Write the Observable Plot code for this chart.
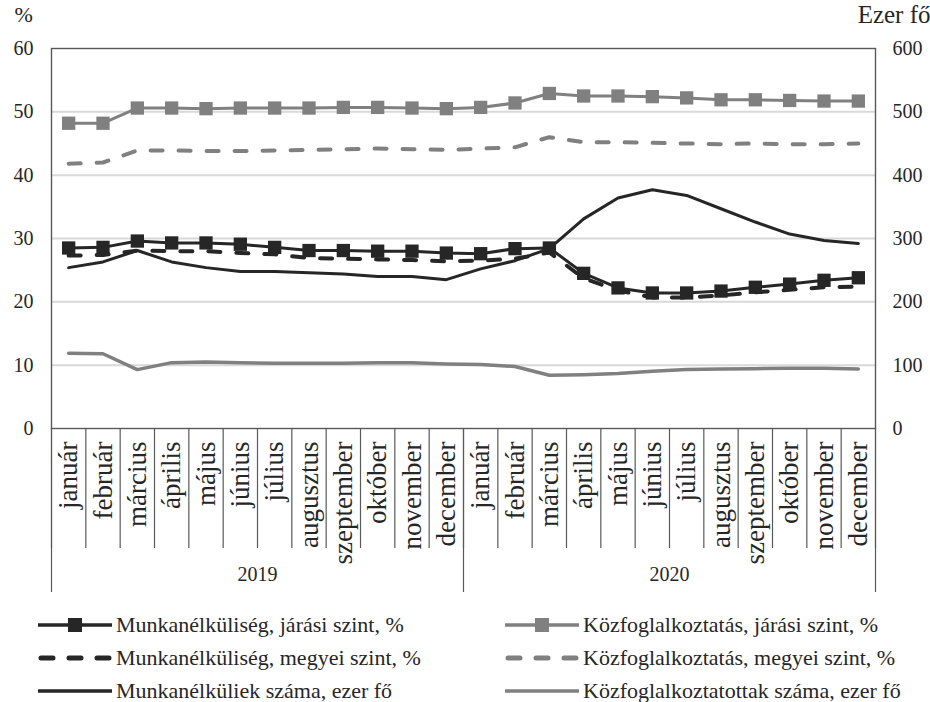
<!DOCTYPE html>
<html>
<head>
<meta charset="utf-8">
<script src="https://cdn.jsdelivr.net/npm/d3@7"></script>
<script src="https://cdn.jsdelivr.net/npm/@observablehq/plot@0.6"></script>
<style>
  html, body { margin: 0; background: #fff; font-family: "Liberation Serif", "DejaVu Serif", serif; color: #262626; overflow: hidden; }
  #wrap { position: relative; width: 930px; height: 702px; }
  .leg { position: absolute; display: flex; align-items: center; font-size: 22px; line-height: 20px; height: 20px; white-space: nowrap; }
  .leg svg { margin-right: 4px; flex: none; }
</style>
</head>
<body>
<div id="wrap"><div id="chart"></div><div id="legend"></div></div>
<script>
const months = ["január","február","március","április","május","június","július","augusztus","szeptember","október","november","december"];
const years = ["2019","2020"];
const yTicks = [0, 10, 20, 30, 40, 50, 60];

// % series (left axis)
const munkJaras = [28.5,28.6,29.6,29.3,29.3,29.1,28.6,28.1,28.1,28.0,28.0,27.7, 27.6,28.4,28.5,24.5,22.2,21.4,21.4,21.7,22.3,22.8,23.4,23.8];
const munkMegyei = [27.3,27.4,28.1,28.0,28.0,27.7,27.5,26.9,26.8,26.7,26.6,26.4, 26.5,26.8,27.8,23.7,21.8,20.7,20.7,21.0,21.5,21.9,22.3,22.4];
const kozJaras = [48.2,48.2,50.6,50.6,50.5,50.6,50.6,50.6,50.7,50.7,50.6,50.5, 50.7,51.4,52.9,52.5,52.5,52.4,52.2,51.9,51.9,51.8,51.7,51.7];
const kozMegyei = [41.8,42.0,43.9,43.9,43.8,43.8,43.9,44.0,44.1,44.2,44.1,44.0, 44.2,44.4,46.0,45.2,45.2,45.1,45.0,44.9,45.0,44.9,44.9,45.0];
// thousand persons (right axis)
const munkSzam = [254,263,281,263,254,248,248,246,244,240,240,235, 252,265,284,331,364,377,368,347,326,307,297,292];
const kozSzam = [119,118,93,104,105,104,103,103,103,104,104,102, 101,98,84,85,87,90.5,93,94,94.5,95,95,94];

const seriesNames = [
  "Munkanélküliség, járási szint, %",
  "Közfoglalkoztatás, járási szint, %",
  "Munkanélküliség, megyei szint, %",
  "Közfoglalkoztatás, megyei szint, %",
  "Munkanélküliek száma, ezer fő",
  "Közfoglalkoztatottak száma, ezer fő"
];

const BLACK = "#262626", GRAY = "#808080";
const rows = (arr, scale = 1) => arr.map((v, i) => ({x: i + 0.5, v: v / scale}));
const monthLabels = years.flatMap((y, yi) => months.map((m, mi) => ({x: yi * 12 + mi + 0.5, label: m})));

const chart = Plot.plot({
  width: 930,
  height: 600,
  marginTop: 48,
  marginBottom: 172,
  marginLeft: 51,
  marginRight: 55,
  style: {fontSize: "20px", fontFamily: "Liberation Serif, DejaVu Serif, serif", color: "#262626", background: "#fff"},
  x: {type: "linear", domain: [0, 24], label: null},
  y: {domain: [0, 60], label: null},
  marks: [
    Plot.gridY([10, 20, 30, 40, 50], {stroke: "#d9d9d9", strokeOpacity: 1, strokeWidth: 2}),
    Plot.frame({stroke: "#595959", strokeWidth: 1.4}),
    // separators between months and years
    Plot.axisX(d3.range(25), {tickSize: 120, tickFormat: () => "", label: null, stroke: "#595959", strokeWidth: 1.2}),
    Plot.axisX([0, 12, 24], {tickSize: 164, tickFormat: () => "", label: null, stroke: "#595959", strokeWidth: 1.2}),
    Plot.text(monthLabels, {x: "x", text: "label", frameAnchor: "bottom", rotate: -90, textAnchor: "end", lineAnchor: "middle", dy: 13, fontSize: 27, fill: BLACK}),
    Plot.axisX([6, 18], {tickSize: 0, tickPadding: 138, label: null, tickFormat: d => years[d < 12 ? 0 : 1], fill: BLACK}),
    Plot.axisY(yTicks, {anchor: "left", tickSize: 0, tickPadding: 18, label: null, fill: BLACK}),
    Plot.axisY(yTicks, {anchor: "right", tickSize: 0, tickPadding: 17, label: null, tickFormat: d => d * 10, fill: BLACK}),
    Plot.text(["%"], {frameAnchor: "top-left", textAnchor: "start", lineAnchor: "middle", dx: -37, dy: -34, fontSize: 22, fill: BLACK}),
    Plot.text(["Ezer fő"], {frameAnchor: "top-right", textAnchor: "end", lineAnchor: "middle", dx: 55, dy: -34, fontSize: 25, fill: BLACK}),
    // gray series
    Plot.line(rows(kozSzam, 10), {x: "x", y: "v", stroke: GRAY, strokeWidth: 3.5}),
    Plot.line(rows(kozMegyei), {x: "x", y: "v", stroke: GRAY, strokeWidth: 4, strokeDasharray: "12,16", strokeLinecap: "round"}),
    Plot.line(rows(kozJaras), {x: "x", y: "v", stroke: GRAY, strokeWidth: 3}),
    Plot.dot(rows(kozJaras), {x: "x", y: "v", symbol: "square", r: 7.5, fill: GRAY}),
    // black series
    Plot.line(rows(munkSzam, 10), {x: "x", y: "v", stroke: BLACK, strokeWidth: 3}),
    Plot.line(rows(munkMegyei), {x: "x", y: "v", stroke: BLACK, strokeWidth: 4, strokeDasharray: "12,16", strokeLinecap: "round"}),
    Plot.line(rows(munkJaras), {x: "x", y: "v", stroke: BLACK, strokeWidth: 3}),
    Plot.dot(rows(munkJaras), {x: "x", y: "v", symbol: "square", r: 7.5, fill: BLACK})
  ]
});
document.getElementById("chart").appendChild(chart);

// legend
const legendItems = [
  {name: seriesNames[0], color: BLACK, kind: "square", left: 38, top: 625},
  {name: seriesNames[2], color: BLACK, kind: "dash", left: 38, top: 658},
  {name: seriesNames[4], color: BLACK, kind: "solid", left: 38, top: 691},
  {name: seriesNames[1], color: GRAY, kind: "square", left: 505, top: 625},
  {name: seriesNames[3], color: GRAY, kind: "dash", left: 505, top: 658},
  {name: seriesNames[5], color: GRAY, kind: "solid", left: 505, top: 691}
];
const legend = document.getElementById("legend");
for (const it of legendItems) {
  const div = document.createElement("div");
  div.className = "leg";
  div.style.left = it.left + "px";
  div.style.top = (it.top - 10) + "px";
  let sample;
  if (it.kind === "square") {
    sample = `<line x1="0" y1="10" x2="74" y2="10" stroke="${it.color}" stroke-width="3.5"/><rect x="30" y="3" width="14" height="14" fill="${it.color}"/>`;
  } else if (it.kind === "dash") {
    sample = `<line x1="3" y1="10" x2="72" y2="10" stroke="${it.color}" stroke-width="5" stroke-dasharray="12,16" stroke-linecap="round"/>`;
  } else {
    sample = `<line x1="0" y1="10" x2="74" y2="10" stroke="${it.color}" stroke-width="3.5"/>`;
  }
  div.innerHTML = `<svg width="74" height="20">${sample}</svg><span>${it.name}</span>`;
  legend.appendChild(div);
}
</script>
</body>
</html>
